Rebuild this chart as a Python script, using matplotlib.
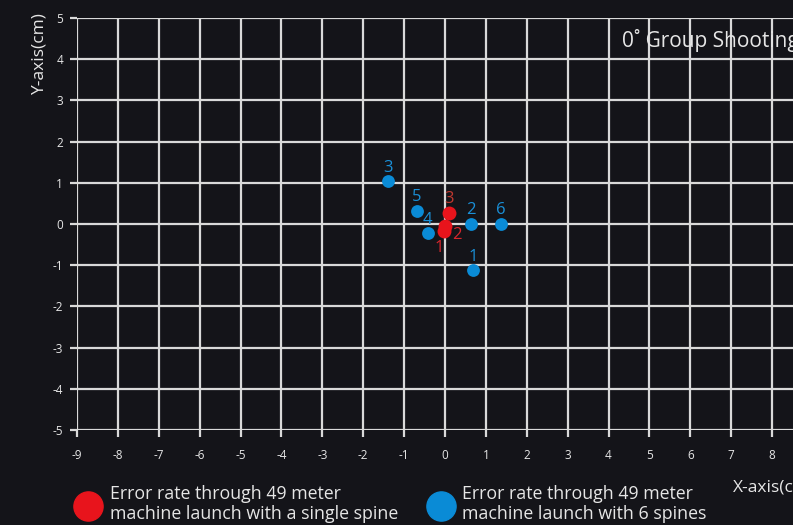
import matplotlib
matplotlib.use("Agg")
import matplotlib.pyplot as plt
from matplotlib.lines import Line2D

plt.rcParams['font.family'] = ['Open Sans', 'DejaVu Sans']
plt.rcParams['axes.unicode_minus'] = False

# Data (cm)
blue_ids = ["1", "2", "3", "4", "5", "6"]
blue_x = [0.69, 0.64, -1.40, -0.42, -0.69, 1.37]
blue_y = [-1.12, 0.0, 1.04, -0.22, 0.32, 0.0]

red_ids = ["1", "2", "3"]
red_x = [-0.03, 0.0, 0.10]
red_y = [-0.16, -0.06, 0.27]

x_ticks = list(range(-9, 9))
y_ticks = list(range(-5, 6))

title_text = "0\u02da Group Shooting"
xlabel = "X-axis(cm)"
ylabel = "Y-axis(cm)"
legend_red = "Error rate through 49 meter\nmachine launch with a single spine"
legend_blue = "Error rate through 49 meter\nmachine launch with 6 spines"

BG = "#141419"
GRID = "#d9d9d9"
TXT = "#e6e6e6"
BLUE = "#0a8bd6"
RED = "#e8141c"
BLUE_T = "#1a90d8"
RED_T = "#d8262c"

W, H = 793, 525
fig = plt.figure(figsize=(W / 100, H / 100), dpi=100, facecolor=BG)
ax = fig.add_axes([77 / W, (H - 430) / H, (813 - 77) / W, (430 - 18) / H])
ax.set_facecolor(BG)
ax.set_xlim(-9, 9)
ax.set_ylim(-5, 5)
ax.set_xticks(x_ticks)
ax.set_yticks(y_ticks)
ax.grid(True, color=GRID, linewidth=1.6, zorder=0)
ax.set_axisbelow(True)
for s in ax.spines.values():
    s.set_visible(False)
ax.tick_params(colors=GRID, labelcolor=TXT, labelsize=8.5, length=5, width=1.6)
ax.tick_params(axis="x", pad=9)
ax.tick_params(axis="y", pad=5)

ax.scatter(blue_x, blue_y, s=85, color=BLUE, zorder=3, linewidths=0)
ax.scatter(red_x, red_y, s=100, color=RED, zorder=4, linewidths=0)

for i, (x, y) in enumerate(zip(blue_x, blue_y)):
    ax.annotate(blue_ids[i], (x, y), xytext=(0, 4), textcoords="offset points",
                ha="center", va="bottom", color=BLUE_T, fontsize=12, zorder=5)

red_offsets = [(-3, -7, "center", "top"), (5, -6, "left", "center"), (0, 4, "center", "bottom")]
red_colors = [RED_T, RED_T, "#c0392f"]
for i, (x, y) in enumerate(zip(red_x, red_y)):
    dx, dy, ha, va = red_offsets[i]
    ax.annotate(red_ids[i], (x, y), xytext=(dx, dy), textcoords="offset points",
                ha=ha, va=va, color=red_colors[i], fontsize=12, zorder=5)

fig.text(622 / W, 1 - 40 / H, title_text, color=TXT, fontsize=15, ha="left", va="center")
fig.text(40 / W, 1 - 54 / H, ylabel, color=TXT, fontsize=12.5, rotation=90, ha="center", va="center")
fig.text(733 / W, 1 - 487 / H, xlabel, color=TXT, fontsize=12.5, ha="left", va="center")

fig.add_artist(Line2D([88 / W], [1 - 506 / H], marker="o", markersize=21, color=RED,
                      linestyle="none", transform=fig.transFigure))
fig.add_artist(Line2D([441 / W], [1 - 506 / H], marker="o", markersize=21, color=BLUE,
                      linestyle="none", transform=fig.transFigure))
fig.text(110 / W, 1 - 504 / H, legend_red, color=TXT, fontsize=12.8, ha="left", va="center",
         linespacing=1.12)
fig.text(462 / W, 1 - 504 / H, legend_blue, color=TXT, fontsize=12.8, ha="left", va="center",
         linespacing=1.12)

fig.savefig("out.png", dpi=100, facecolor=BG)
